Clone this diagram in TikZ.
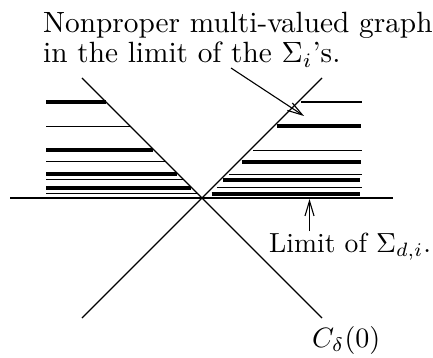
\documentclass[tikz,border=0pt]{standalone}
\usetikzlibrary{arrows.meta}
\begin{document}
\begin{tikzpicture}[x=1pt,y=-1pt,
  thinbar/.style={line width=1.2pt},
  thickbar/.style={line width=4pt},
  axisline/.style={line width=1.1pt},
  lbl/.style={anchor=base west,inner sep=0pt},
  ptr/.style={line width=1.1pt,-{Straight Barb[length=15pt,width=9pt,line width=1.1pt]}}]
\useasboundingbox (0,0) rectangle (433,358);
% axes
\coordinate (hl) at (10,198);
\coordinate (hr) at (393,198);
\coordinate (d1a) at (82,78);
\coordinate (d1b) at (322,318);
\coordinate (d2a) at (322,78);
\coordinate (d2b) at (82,318);
\draw[axisline] (hl) -- (hr);
\draw[axisline] (d1a) -- (d1b);
\draw[axisline] (d2a) -- (d2b);
% left bars
\draw[thickbar] (46,102) -- (106,102);
\draw[thinbar]  (46,126.5) -- (130,126.5);
\draw[thickbar] (46,150) -- (153,150);
\draw[thinbar]  (46,161.7) -- (165.5,161.7);
\draw[thickbar] (46,174) -- (177,174);
\draw[thinbar]  (46,179.5) -- (183,179.5);
\draw[thickbar] (46,187.5) -- (190.5,187.5);
\draw[thinbar]  (46,193.5) -- (197,193.5);
% right bars
\draw[thinbar]  (301,102) -- (362,102);
\draw[thickbar] (277,126) -- (361,126);
\draw[thinbar]  (253,150.3) -- (362,150.3);
\draw[thickbar] (241.5,162) -- (361,162);
\draw[thinbar]  (229,174.3) -- (362,174.3);
\draw[thickbar] (222.5,180) -- (360,180);
\draw[thinbar]  (216.5,187.7) -- (362,187.7);
\draw[thickbar] (211.5,194) -- (360,194);
% labels
\node[lbl] (t1) at (43,33) {\scalebox{2.93}{Nonproper multi-valued graph}};
\node[lbl] (t2) at (43,63) {\scalebox{2.93}{in the limit of the $\Sigma_i$'s.}};
\node[lbl] (t3) at (269,252) {\scalebox{2.76}{Limit of $\Sigma_{d,i}$.}};
\node[lbl] (t4) at (312,347) {\scalebox{2.8}{$C_\delta(0)$}};
% pointers
\coordinate (p1s) at (231,68);
\coordinate (p1e) at (304,116);
\draw[ptr] (p1s) -- (p1e);
\coordinate (p2s) at (309.5,231);
\coordinate (p2e) at (309.5,199);
\draw[ptr] (p2s) -- (p2e);
\end{tikzpicture}
\end{document}
